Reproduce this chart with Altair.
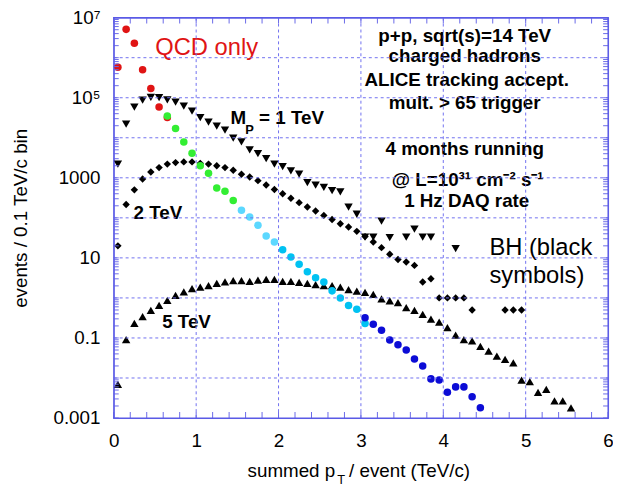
import altair as alt
import pandas as pd

# ---------------- data ----------------
bin_centers = [0.05, 0.15, 0.25, 0.35, 0.45, 0.55, 0.65, 0.75, 0.85, 0.95,
               1.05, 1.15, 1.25, 1.35, 1.45, 1.55, 1.65, 1.75, 1.85, 1.95,
               2.05, 2.15, 2.25, 2.35, 2.45, 2.55, 2.65, 2.75, 2.85, 2.95,
               3.05, 3.15, 3.25, 3.35, 3.45, 3.55, 3.65, 3.75, 3.85, 3.95,
               4.05, 4.15, 4.25, 4.35, 4.45, 4.55, 4.65, 4.75, 4.85, 4.95,
               5.05, 5.15, 5.25, 5.35, 5.45, 5.55]

# QCD only (coloured circles)
x_qcd_red = [0.05, 0.15, 0.25, 0.35, 0.45, 0.55, 0.65]
y_qcd_red = [5.8e5, 5.1e6, 2.3e6, 5.0e5, 1.7e5, 5.9e4, 3.2e4]
x_qcd_green = [0.65, 0.75, 0.85, 0.95, 1.05, 1.15, 1.25, 1.35, 1.45]
y_qcd_green = [3.5e4, 1.7e4, 7.8e3, 4.1e3, 2.0e3, 1.3e3, 560, 460, 270]
x_qcd_lcyan = [1.55, 1.65, 1.75, 1.85, 1.95]
y_qcd_lcyan = [155, 105, 65, 35, 25]
x_qcd_cyan = [2.05, 2.15, 2.25, 2.35, 2.45, 2.55, 2.65, 2.75, 2.85, 2.95, 3.05]
y_qcd_cyan = [16, 10.5, 6.9, 4.5, 3.2, 2.5, 1.5, 1.0, 0.65, 0.52, 0.23]
x_qcd_blue = [3.05, 3.15, 3.25, 3.35, 3.45, 3.55, 3.65, 3.75, 3.85, 3.95,
              4.05, 4.15, 4.25, 4.35, 4.45]
y_qcd_blue = [0.32, 0.22, 0.155, 0.089, 0.068, 0.050, 0.030, 0.020, 0.0095, 0.0089,
              0.0044, 0.006, 0.006, 0.0034, 0.0018]

# BH, M_P = 1 TeV (triangle down)
x_bh1 = bin_centers[:30] + [3.05, 3.15, 3.25, 3.35, 3.55, 3.65, 3.75, 3.85, 4.15]
y_bh1 = [2200, 2.2e4, 5.8e4, 8.7e4, 1.02e5, 1.0e5, 8.9e4, 7.8e4, 6.2e4, 4.6e4,
         3.2e4, 2.45e4, 1.95e4, 1.55e4, 9800, 7900, 5000, 4000, 3000, 2200,
         1900, 1500, 1230, 760, 660, 575, 480, 445, 186, 123,
         33, 33, 83, 32, 33, 52, 33, 33, 17]

# BH, 2 TeV (diamond)
x_bh2 = bin_centers[:44] + [4.75, 4.85, 4.95]
y_bh2 = [20, 215, 500, 930, 1400, 1800, 2200, 2400, 2500, 2500,
         2300, 2200, 2000, 1800, 1550, 1230, 1050, 850, 660, 510,
         400, 310, 240, 186, 148, 115, 91, 71, 59, 46,
         34, 25, 18, 12.3, 9.1, 7.9, 6.5, 2.5, 3.0, 1.0,
         1.0, 1.0, 1.0, 0.5, 0.5, 0.5, 0.5]

# BH, 5 TeV (triangle up)
x_bh5 = bin_centers[:56]
y_bh5 = [0.0069, 0.091, 0.23, 0.34, 0.49, 0.65, 0.87, 1.15, 1.41, 1.7,
         1.86, 2.04, 2.3, 2.5, 2.7, 2.7, 2.6, 2.8, 2.9, 2.9,
         2.6, 2.6, 2.45, 2.3, 2.15, 2.04, 2.04, 1.86, 1.62, 1.48,
         1.38, 1.23, 0.95, 0.85, 0.76, 0.575, 0.49, 0.39, 0.295, 0.25,
         0.18, 0.117, 0.091, 0.085, 0.062, 0.047, 0.035, 0.029, 0.024, 0.0089,
         0.0081, 0.0044, 0.0052, 0.0027, 0.0027, 0.0018]

# axes
x_tick_values = [0, 1, 2, 3, 4, 5, 6]
x_grid_values = [1, 2, 3, 4, 5]
x_minor_ticks = [0.2, 0.4, 0.6, 0.8, 1.2, 1.4, 1.6, 1.8, 2.2, 2.4, 2.6, 2.8,
                 3.2, 3.4, 3.6, 3.8, 4.2, 4.4, 4.6, 4.8, 5.2, 5.4, 5.6, 5.8]
y_decades = [1e-3, 1e-2, 1e-1, 1, 10, 100, 1e3, 1e4, 1e5, 1e6, 1e7]
y_grid_values = [1e-2, 1e-1, 1, 10, 100, 1e3, 1e4, 1e5, 1e6]
y_label_exps = [7, 5, 3, 1, -1, -3]
y_label_texts = ["10⁷", "10⁵", "1000", "10", "0.1", "0.001"]
y_minor_mult = [2, 3, 4, 5, 6, 7, 8, 9]

# annotation texts
ann_text = ["p+p, sqrt(s)=14 TeV", "charged hadrons", "ALICE tracking accept.",
            "mult. > 65 trigger", "4 months running", "@ L=10³¹ cm⁻² s⁻¹", "1 Hz DAQ rate",
            "M", "P", "= 1 TeV", "2 TeV", "5 TeV",
            "QCD only", "BH (black", "symbols)",
            "summed p", "T", "/ event (TeV/c)", "events / 0.1 TeV/c bin"]

# ---------------- styling ----------------
W, H = 500, 405
FONT = "Liberation Sans"
FRAME = "#5a5ae6"
GRID = "#7070f0"
TICK = "#6a6ae8"

# (x px, y px, size, weight, align, colour, angle) relative to plot origin
ann_style = [
    (355, 25, 19, "bold", "center", "black", 0),
    (355, 45, 19, "bold", "center", "black", 0),
    (357, 69, 19, "bold", "center", "black", 0),
    (355, 92, 19, "bold", "center", "black", 0),
    (355, 139, 19, "bold", "center", "black", 0),
    (358, 170, 19, "bold", "center", "black", 0),
    (357, 192, 19, "bold", "center", "black", 0),
    (118, 108, 19, "bold", "left", "black", 0),
    (133, 118, 13, "bold", "left", "black", 0),
    (147, 108, 19, "bold", "left", "black", 0),
    (20, 204, 19, "bold", "left", "black", 0),
    (49, 314, 19, "bold", "left", "black", 0),
    (42, 38, 24, "normal", "left", "#e01414", 0),
    (380, 240, 24, "normal", "left", "black", 0),
    (380, 268, 24, "normal", "left", "black", 0),
    (224, 465, 19, "normal", "right", "black", 0),
    (226, 472, 13, "normal", "left", "black", 0),
    (238, 465, 19, "normal", "left", "black", 0),
    (-88, 203, 19, "normal", "center", "black", 270),
]

xscale = alt.Scale(domain=[0, 6], nice=False, zero=False)
yscale = alt.Scale(type="log", domain=[1e-3, 1e7], nice=False)

qcd = pd.DataFrame({
    "x": x_qcd_red + x_qcd_green + x_qcd_lcyan + x_qcd_cyan + x_qcd_blue,
    "y": y_qcd_red + y_qcd_green + y_qcd_lcyan + y_qcd_cyan + y_qcd_blue,
    "g": (["a"] * len(x_qcd_red) + ["b"] * len(x_qcd_green) + ["c"] * len(x_qcd_lcyan)
          + ["d"] * len(x_qcd_cyan) + ["e"] * len(x_qcd_blue)),
})
bh1 = pd.DataFrame({"x": x_bh1, "y": y_bh1})
bh2 = pd.DataFrame({"x": x_bh2, "y": y_bh2})
bh5 = pd.DataFrame({"x": x_bh5, "y": y_bh5})

label_expr = ""
for e, t in zip(y_label_exps, y_label_texts):
    label_expr += f"round(log(datum.value)/LN10) == {e} ? '{t}' : "
label_expr += "''"

xaxis = alt.Axis(values=x_tick_values, format="d", grid=False, tickSize=0, domain=False,
                 labelFont=FONT, labelFontSize=19, labelColor="black",
                 labelPadding=14, labelFlush=False, labelOverlap=False, title=None)
yaxis = alt.Axis(values=y_decades, labelExpr=label_expr, grid=False, tickSize=0, domain=False,
                 labelFont=FONT, labelFontSize=19, labelColor="black",
                 labelPadding=14, labelFlush=False, labelOverlap=False, title=None)


def X(field):
    return alt.X(field, scale=xscale, axis=xaxis, title=None)


def Y(field):
    return alt.Y(field, scale=yscale, axis=yaxis, title=None)


def Xp(field):
    return alt.X(field, scale=xscale, title=None)


def Yp(field):
    return alt.Y(field, scale=yscale, title=None)


def vlines(df, field, y0, y1, color, w=1.0):
    # thin filled rectangles standing in for vertical tick lines
    return alt.Chart(df).mark_rect(color=color, opacity=1, xOffset=-w / 2, x2Offset=w / 2).encode(
        x=Xp(field + ":Q"), x2=alt.X2(field), y=alt.value(y0), y2=alt.value(y1))


def hlines(df, field, x0, x1, color, w=1.0):
    return alt.Chart(df).mark_rect(color=color, opacity=1, yOffset=-w / 2, y2Offset=w / 2).encode(
        y=Yp(field + ":Q"), y2=alt.Y2(field), x=alt.value(x0), x2=alt.value(x1))


# dashed grid
gx = pd.DataFrame({"u": x_grid_values})
gy = pd.DataFrame({"v": y_grid_values})
grid_v = alt.Chart(gx).mark_rule(color=GRID, strokeWidth=1, strokeDash=[3, 3]).encode(
    x=Xp("u:Q"), y=alt.value(0), y2=alt.value(H))
grid_h = alt.Chart(gy).mark_rule(color=GRID, strokeWidth=1, strokeDash=[3, 3]).encode(
    y=Yp("v:Q"), x=alt.value(0), x2=alt.value(W))

# inward ticks
ymin = pd.DataFrame({"v": [m * d for d in y_decades[:-1] for m in y_minor_mult] + y_decades})
xmin = pd.DataFrame({"u": x_minor_ticks + x_tick_values})
t_left = hlines(ymin, "v", 0, 5, TICK)
t_right = hlines(ymin, "v", W - 5, W, TICK)
t_bot = vlines(xmin, "u", H - 6, H, TICK)
t_top = vlines(xmin, "u", 0, 6, TICK)

# frame (four thin filled bands)
dummy = pd.DataFrame({"k": [0]})
frame_layers = []
for (a, b, c, d) in [(-0.6, W + 0.6, -0.6, 0.6), (-0.6, W + 0.6, H - 0.6, H + 0.6),
                     (-0.6, 0.6, -0.6, H + 0.6), (W - 0.6, W + 0.6, -0.6, H + 0.6)]:
    frame_layers.append(
        alt.Chart(dummy).mark_rect(color=FRAME, opacity=1).encode(
            x=alt.value(a), x2=alt.value(b), y=alt.value(c), y2=alt.value(d)))

# black BH symbols
l_bh5 = alt.Chart(bh5).mark_point(filled=True, shape="triangle-up", size=72,
                                  color="black", opacity=1).encode(x=X("x:Q"), y=Y("y:Q"))
l_bh2 = alt.Chart(bh2).mark_point(filled=True, shape="diamond", size=56,
                                  color="black", opacity=1).encode(x=X("x:Q"), y=Y("y:Q"))
l_bh1 = alt.Chart(bh1).mark_point(filled=True, shape="triangle-down", size=72,
                                  color="black", opacity=1).encode(x=X("x:Q"), y=Y("y:Q"))

l_qcd = alt.Chart(qcd).mark_circle(size=58, opacity=1).encode(
    x=X("x:Q"), y=Y("y:Q"),
    color=alt.Color("g:N", legend=None,
                    scale=alt.Scale(domain=["a", "b", "c", "d", "e"],
                                    range=["#e01414", "#33ee33", "#5cd8ff", "#00c2f2", "#0c0cd6"])))

# text annotation layers, one per text
text_layers = []
for t, (px, py, fs, fw, al, col, ang) in zip(ann_text, ann_style):
    text_layers.append(
        alt.Chart(dummy).mark_text(text=t, font=FONT, fontSize=fs, fontWeight=fw,
                                   align=al, baseline="alphabetic", color=col,
                                   angle=ang).encode(x=alt.value(px), y=alt.value(py))
    )

# guide lines are layered last so nothing can paint over them
chart = alt.layer(
    l_bh5, l_bh2, l_bh1, l_qcd, *text_layers,
    grid_v, grid_h, t_left, t_right, t_bot, t_top, *frame_layers
).properties(
    width=W, height=H,
    autosize=alt.AutoSizeParams(type="none"),
    padding={"left": 107, "top": 7, "right": 5, "bottom": 68},
).configure_view(stroke=FRAME, strokeWidth=1)

chart.save("out.html", embed_options={"renderer": "svg", "actions": False})
